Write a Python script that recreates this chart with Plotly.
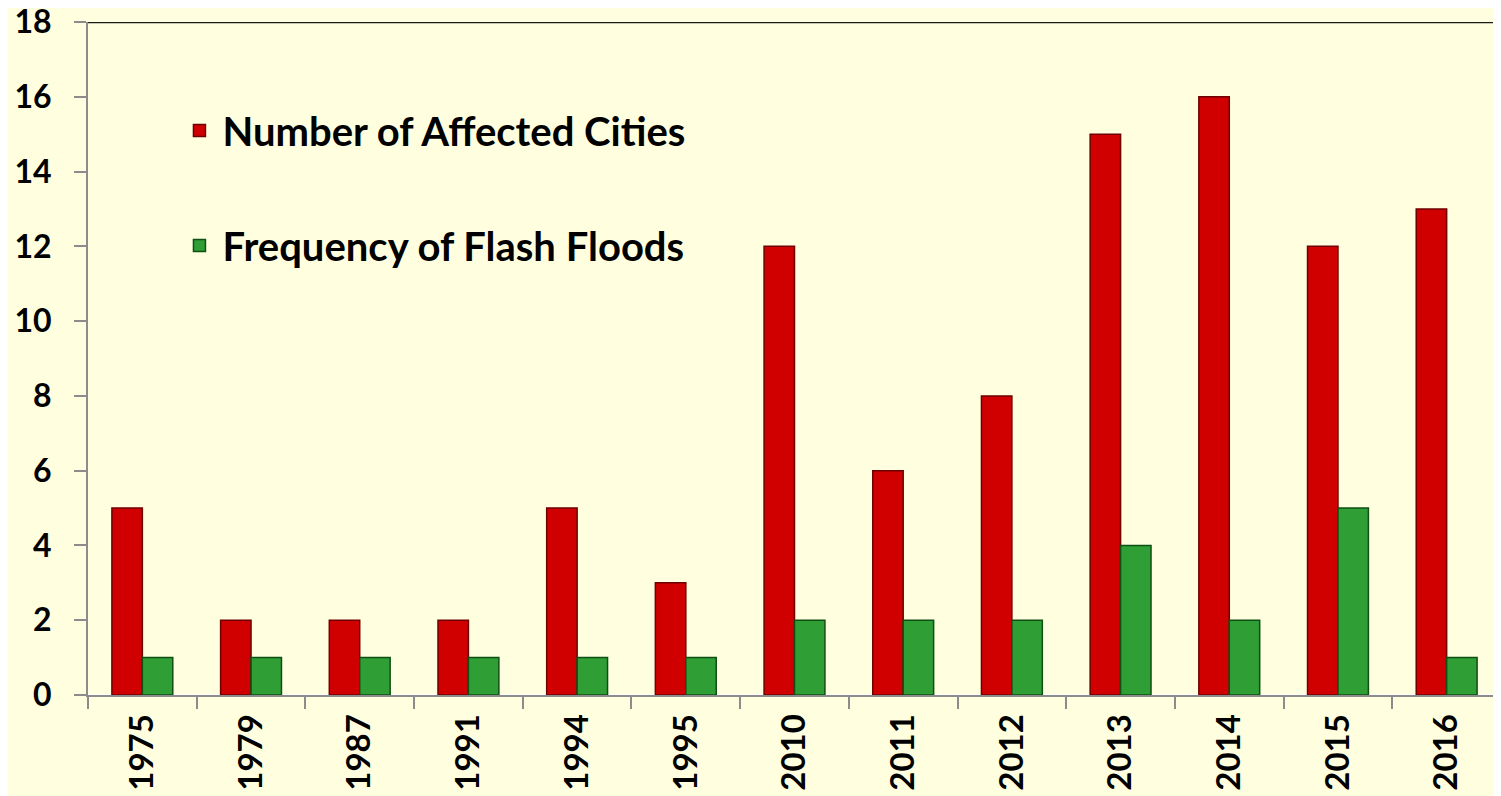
import plotly.graph_objects as go

years = ["1975", "1979", "1987", "1991", "1994", "1995", "2010",
         "2011", "2012", "2013", "2014", "2015", "2016"]
affected_cities = [5, 2, 2, 2, 5, 3, 12, 6, 8, 15, 16, 12, 13]
flash_floods = [1, 1, 1, 1, 1, 1, 2, 2, 2, 4, 2, 5, 1]

bg = "#FFFFE0"
font = "Lato"

fig = go.Figure()

fig.add_trace(go.Bar(
    x=years,
    y=affected_cities,
    name="Number of Affected Cities",
    legendgroup="a",
    marker=dict(color="#D10000", line=dict(color="#6E0000", width=1.5))
))

fig.add_trace(go.Bar(
    x=years,
    y=flash_floods,
    name="Frequency of Flash Floods",
    legendgroup="b",
    marker=dict(color="#2E9E35", line=dict(color="#0F4F14", width=1.5))
))

# the page adds an 8px body margin, so the figure is sized to fit inside it
fig.update_layout(
    width=1493,
    height=788,
    paper_bgcolor=bg,
    plot_bgcolor=bg,
    barmode="group",
    bargap=0.44,
    bargroupgap=0,
    margin=dict(l=80, r=0, t=14, b=101, autoexpand=False),
    font=dict(family=font, color="black"),
    legend=dict(
        x=0.0626,
        y=0.887,
        xanchor="left",
        yanchor="top",
        bgcolor="rgba(0,0,0,0)",
        font=dict(size=40, family=font, weight="bold"),
        tracegroupgap=60,
        itemwidth=36
    ),
    xaxis=dict(
        type="category",
        showgrid=False,
        showline=True,
        linecolor="#8C8C8C",
        linewidth=2,
        ticks="outside",
        tickson="boundaries",
        ticklen=12,
        tickcolor="#8C8C8C",
        tickwidth=2,
        tickangle=-90,
        ticklabelstandoff=4,
        ticklabeloverflow="allow",
        tickfont=dict(size=33, family=font, weight="bold")
    ),
    yaxis=dict(
        range=[0, 18],
        dtick=2,
        showgrid=False,
        showline=True,
        linecolor="#8C8C8C",
        linewidth=2,
        ticks="outside",
        ticklen=12,
        tickcolor="#8C8C8C",
        tickwidth=2,
        ticklabelstandoff=16,
        ticklabeloverflow="allow",
        tickfont=dict(size=32, family=font, weight="bold")
    )
)

# top border of the plot area
fig.add_shape(
    type="line", xref="paper", yref="y",
    x0=0, x1=1, y0=18, y1=18,
    line=dict(color="#1A1A1A", width=2.5)
)

fig.write_html("out.html")
